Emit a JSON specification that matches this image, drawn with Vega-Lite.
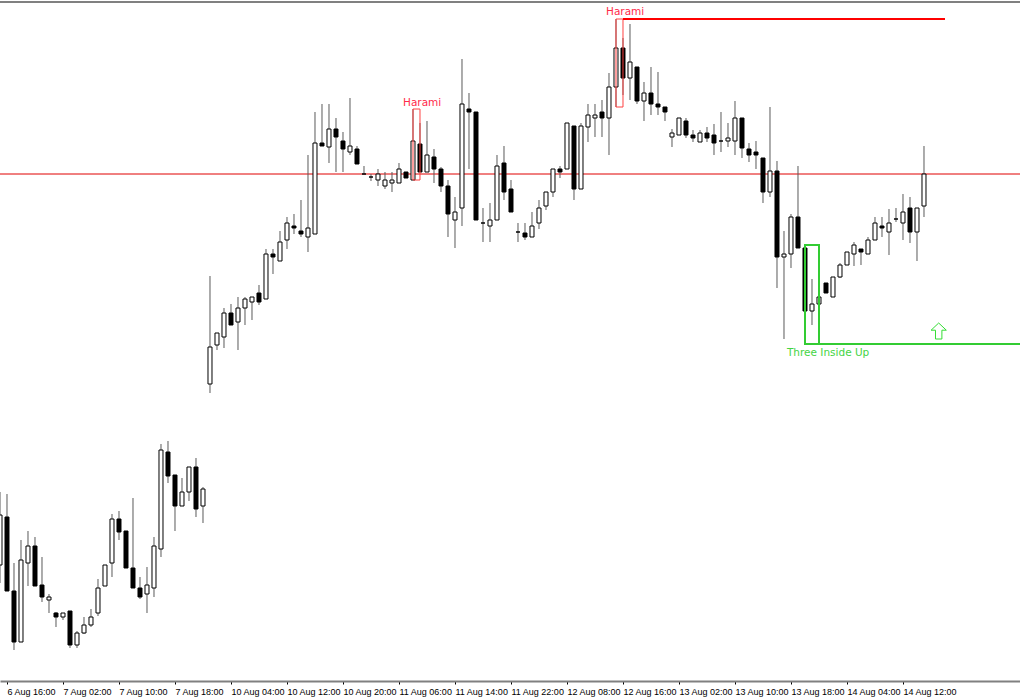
{
  "$schema": "https://vega.github.io/schema/vega-lite/v6.json",
  "width": 1020,
  "height": 681,
  "autosize": {"type": "none"},
  "padding": {"left": 0, "top": 0, "right": 0, "bottom": 19},
  "background": "white",
  "config": {"view": {"stroke": null}, "scale": {"continuousPadding": 0}},
  "datasets": {
    "candles": [
      {"i":-1,"o":435,"h":508,"l":417,"c":485},
      {"i":0,"o":483,"h":506,"l":409,"c":409},
      {"i":1,"o":409,"h":437,"l":350,"c":358},
      {"i":2,"o":358,"h":460,"l":358,"c":440},
      {"i":3,"o":437,"h":469,"l":414,"c":454},
      {"i":4,"o":454,"h":463,"l":414,"c":414},
      {"i":5,"o":415,"h":443,"l":398,"c":403},
      {"i":6,"o":400,"h":406,"l":387,"c":403},
      {"i":7,"o":387,"h":388,"l":373,"c":383},
      {"i":8,"o":383,"h":387,"l":380,"c":387},
      {"i":9,"o":389,"h":389,"l":352,"c":355},
      {"i":10,"o":355,"h":369,"l":352,"c":367},
      {"i":11,"o":367,"h":383,"l":366,"c":375},
      {"i":12,"o":375,"h":391,"l":373,"c":383},
      {"i":13,"o":387,"h":421,"l":384,"c":412},
      {"i":14,"o":414,"h":435,"l":414,"c":435},
      {"i":15,"o":437,"h":486,"l":423,"c":481},
      {"i":16,"o":481,"h":489,"l":460,"c":468},
      {"i":17,"o":469,"h":469,"l":432,"c":432},
      {"i":18,"o":432,"h":502,"l":412,"c":412},
      {"i":19,"o":412,"h":423,"l":401,"c":403},
      {"i":20,"o":406,"h":433,"l":387,"c":415},
      {"i":21,"o":412,"h":463,"l":403,"c":454},
      {"i":22,"o":451,"h":556,"l":443,"c":550},
      {"i":23,"o":548,"h":559,"l":517,"c":524},
      {"i":24,"o":525,"h":525,"l":469,"c":494},
      {"i":25,"o":494,"h":522,"l":494,"c":508},
      {"i":26,"o":508,"h":533,"l":499,"c":533},
      {"i":27,"o":533,"h":542,"l":483,"c":491},
      {"i":28,"o":494,"h":513,"l":477,"c":511},
      {"i":29,"o":616,"h":724,"l":607,"c":653},
      {"i":30,"o":655,"h":667,"l":650,"c":667},
      {"i":31,"o":663,"h":692,"l":652,"c":687},
      {"i":32,"o":687,"h":696,"l":675,"c":675},
      {"i":33,"o":678,"h":703,"l":650,"c":692},
      {"i":34,"o":692,"h":703,"l":675,"c":701},
      {"i":35,"o":698,"h":703,"l":680,"c":703},
      {"i":36,"o":707,"h":715,"l":695,"c":698},
      {"i":37,"o":701,"h":751,"l":701,"c":746},
      {"i":38,"o":746,"h":751,"l":726,"c":743},
      {"i":39,"o":739,"h":769,"l":739,"c":758},
      {"i":40,"o":760,"h":783,"l":751,"c":777},
      {"i":41,"o":774,"h":786,"l":766,"c":772},
      {"i":42,"o":769,"h":800,"l":763,"c":766},
      {"i":43,"o":763,"h":845,"l":748,"c":772},
      {"i":44,"o":766,"h":888,"l":766,"c":857},
      {"i":45,"o":857,"h":896,"l":854,"c":854},
      {"i":46,"o":853,"h":896,"l":837,"c":871},
      {"i":47,"o":871,"h":882,"l":828,"c":863},
      {"i":48,"o":859,"h":868,"l":828,"c":851},
      {"i":49,"o":848,"h":902,"l":845,"c":854},
      {"i":50,"o":851,"h":854,"l":836,"c":836},
      {"i":51,"o":826,"h":834,"l":826,"c":826},
      {"i":52,"o":823,"h":826,"l":819,"c":823},
      {"i":53,"o":820,"h":831,"l":814,"c":826},
      {"i":54,"o":814,"h":828,"l":811,"c":820},
      {"i":55,"o":817,"h":828,"l":808,"c":820},
      {"i":56,"o":817,"h":837,"l":817,"c":831},
      {"i":57,"o":828,"h":828,"l":822,"c":822},
      {"i":58,"o":820,"h":891,"l":820,"c":859},
      {"i":59,"o":856,"h":877,"l":828,"c":828},
      {"i":60,"o":828,"h":879,"l":828,"c":845},
      {"i":61,"o":843,"h":851,"l":817,"c":831},
      {"i":62,"o":831,"h":833,"l":808,"c":814},
      {"i":63,"o":814,"h":820,"l":763,"c":786},
      {"i":64,"o":780,"h":803,"l":752,"c":788},
      {"i":65,"o":792,"h":941,"l":774,"c":896},
      {"i":66,"o":891,"h":907,"l":831,"c":888},
      {"i":67,"o":888,"h":888,"l":780,"c":780},
      {"i":68,"o":777,"h":792,"l":758,"c":777},
      {"i":69,"o":774,"h":797,"l":758,"c":780},
      {"i":70,"o":780,"h":845,"l":780,"c":834},
      {"i":71,"o":837,"h":854,"l":800,"c":808},
      {"i":72,"o":811,"h":820,"l":788,"c":788},
      {"i":73,"o":768,"h":777,"l":758,"c":768},
      {"i":74,"o":767,"h":777,"l":760,"c":763},
      {"i":75,"o":763,"h":788,"l":763,"c":774},
      {"i":76,"o":777,"h":800,"l":771,"c":792},
      {"i":77,"o":794,"h":808,"l":790,"c":808},
      {"i":78,"o":808,"h":831,"l":803,"c":831},
      {"i":79,"o":831,"h":834,"l":822,"c":828},
      {"i":80,"o":831,"h":877,"l":831,"c":877},
      {"i":81,"o":874,"h":874,"l":800,"c":811},
      {"i":82,"o":811,"h":877,"l":811,"c":874},
      {"i":83,"o":873,"h":896,"l":858,"c":885},
      {"i":84,"o":882,"h":896,"l":863,"c":885},
      {"i":85,"o":888,"h":900,"l":863,"c":882},
      {"i":86,"o":882,"h":927,"l":845,"c":913},
      {"i":87,"o":913,"h":981,"l":893,"c":952},
      {"i":88,"o":952,"h":962,"l":905,"c":922},
      {"i":89,"o":922,"h":976,"l":900,"c":938},
      {"i":90,"o":933,"h":933,"l":896,"c":899},
      {"i":91,"o":899,"h":918,"l":879,"c":907},
      {"i":92,"o":907,"h":933,"l":885,"c":896},
      {"i":93,"o":896,"h":928,"l":885,"c":893},
      {"i":94,"o":893,"h":893,"l":879,"c":888},
      {"i":95,"o":863,"h":871,"l":853,"c":867},
      {"i":96,"o":865,"h":882,"l":865,"c":882},
      {"i":97,"o":879,"h":882,"l":862,"c":865},
      {"i":98,"o":865,"h":870,"l":858,"c":862},
      {"i":99,"o":858,"h":870,"l":858,"c":867},
      {"i":100,"o":867,"h":873,"l":858,"c":862},
      {"i":101,"o":865,"h":876,"l":845,"c":857},
      {"i":102,"o":859,"h":888,"l":848,"c":859},
      {"i":103,"o":859,"h":877,"l":853,"c":862},
      {"i":104,"o":859,"h":899,"l":845,"c":882},
      {"i":105,"o":882,"h":882,"l":842,"c":852},
      {"i":106,"o":851,"h":857,"l":838,"c":845},
      {"i":107,"o":848,"h":859,"l":831,"c":845},
      {"i":108,"o":842,"h":842,"l":797,"c":808},
      {"i":109,"o":808,"h":893,"l":803,"c":829},
      {"i":110,"o":829,"h":839,"l":712,"c":743},
      {"i":111,"o":743,"h":769,"l":661,"c":746},
      {"i":112,"o":746,"h":786,"l":732,"c":783},
      {"i":113,"o":783,"h":834,"l":752,"c":752},
      {"i":114,"o":752,"h":755,"l":656,"c":689},
      {"i":115,"o":689,"h":721,"l":675,"c":696},
      {"i":116,"o":696,"h":714,"l":689,"c":703},
      {"i":117,"o":717,"h":717,"l":707,"c":707},
      {"i":118,"o":703,"h":723,"l":703,"c":723},
      {"i":119,"o":723,"h":737,"l":722,"c":735},
      {"i":120,"o":735,"h":748,"l":735,"c":748},
      {"i":121,"o":746,"h":758,"l":734,"c":755},
      {"i":122,"o":751,"h":751,"l":735,"c":748},
      {"i":123,"o":746,"h":763,"l":746,"c":760},
      {"i":124,"o":760,"h":783,"l":760,"c":777},
      {"i":125,"o":774,"h":783,"l":763,"c":772},
      {"i":126,"o":768,"h":791,"l":745,"c":777},
      {"i":127,"o":781,"h":792,"l":778,"c":781},
      {"i":128,"o":777,"h":806,"l":760,"c":788},
      {"i":129,"o":792,"h":803,"l":757,"c":768},
      {"i":130,"o":768,"h":792,"l":739,"c":792},
      {"i":131,"o":794,"h":854,"l":783,"c":826}
    ],
    "levels": [
      {"name":"frame","i":-1,"i2":144.7143,"y":998},
      {"name":"bid","i":-1,"i2":144.7143,"y":826},
      {"name":"Harami","i":88,"i2":134,"y":981},
      {"name":"Three Inside Up","i":116,"i2":144.7143,"y":656}
    ],
    "patterns": [
      {"name":"Harami","i":58,"i2":59,"hi":891,"lo":820},
      {"name":"Harami","i":87,"i2":88,"hi":981,"lo":893},
      {"name":"Three Inside Up","i":114,"i2":116,"hi":755,"lo":656}
    ],
    "labels": [
      {"name":"Harami","i":59.3,"y":897},
      {"name":"Harami","i":88.3,"y":988},
      {"name":"Three Inside Up","i":117.3,"y":647.5}
    ],
    "signals": [
      {"name":"Three Inside Up","i":133.1,"y":669}
    ]
  },
  "encoding": {
    "x": {
      "field": "i",
      "type": "quantitative",
      "scale": {"domain": [-1, 144.7143], "nice": false, "zero": false, "padding": 0},
      "axis": {
        "values": [0,8,16,24,32,40,48,56,64,72,80,88,96,104,112,120,128],
        "labelExpr": "['6 Aug 16:00','7 Aug 02:00','7 Aug 10:00','7 Aug 18:00','10 Aug 04:00','10 Aug 12:00','10 Aug 20:00','11 Aug 06:00','11 Aug 14:00','11 Aug 22:00','12 Aug 08:00','12 Aug 16:00','13 Aug 02:00','13 Aug 10:00','13 Aug 18:00','14 Aug 04:00','14 Aug 12:00'][datum.value/8]",
        "title": null,
        "grid": false,
        "domainColor": "#808080",
        "domainWidth": 2,
        "tickColor": "#000000",
        "tickSize": 3,
        "labelAlign": "left",
        "labelBaseline": "top",
        "labelPadding": 3,
        "labelFont": "Liberation Sans",
        "labelFontSize": 9,
        "labelColor": "#000000",
        "labelFlush": false,
        "labelOverlap": false,
        "labelBound": false
      }
    }
  },
  "layer": [
    {
      "data": {"name": "levels"},
      "transform": [{"filter": "datum.name == 'frame' || datum.name == 'bid'"}],
      "mark": {"type": "rule"},
      "encoding": {
        "x2": {"field": "i2"},
        "y": {"field": "y", "type": "quantitative", "scale": {"domain": [319, 1000], "nice": false, "zero": false, "padding": 0}, "axis": null},
        "stroke": {"condition": {"test": "datum.name == 'bid'", "value": "#e00000"}, "value": "#808080"},
        "strokeWidth": {"condition": {"test": "datum.name == 'bid'", "value": 1}, "value": 2}
      }
    },
    {
      "data": {"name": "candles"},
      "mark": {"type": "rule", "color": "#5a5a5a", "strokeWidth": 1},
      "encoding": {
        "y": {"field": "l", "type": "quantitative", "scale": {"domain": [319, 1000], "nice": false, "zero": false, "padding": 0}, "axis": null},
        "y2": {"field": "h"}
      }
    },
    {
      "data": {"name": "candles"},
      "mark": {"type": "bar", "size": 4, "stroke": "#000000", "strokeWidth": 1},
      "encoding": {
        "y": {"field": "o", "type": "quantitative", "scale": {"domain": [319, 1000], "nice": false, "zero": false, "padding": 0}, "axis": null},
        "y2": {"field": "c"},
        "fill": {"condition": {"test": "datum.c >= datum.o", "value": "#ffffff"}, "value": "#000000"}
      }
    },
    {
      "data": {"name": "patterns"},
      "mark": {"type": "rect", "filled": false},
      "encoding": {
        "x2": {"field": "i2"},
        "y": {"field": "hi", "type": "quantitative", "scale": {"domain": [319, 1000], "nice": false, "zero": false, "padding": 0}, "axis": null},
        "y2": {"field": "lo"},
        "stroke": {"condition": {"test": "datum.name == 'Harami'", "value": "#ff4040"}, "value": "#33cc33"},
        "strokeWidth": {"condition": {"test": "datum.name == 'Harami'", "value": 1}, "value": 2}
      }
    },
    {
      "data": {"name": "levels"},
      "transform": [{"filter": "datum.name != 'frame' && datum.name != 'bid'"}],
      "mark": {"type": "rule", "strokeWidth": 2},
      "encoding": {
        "x2": {"field": "i2"},
        "y": {"field": "y", "type": "quantitative", "scale": {"domain": [319, 1000], "nice": false, "zero": false, "padding": 0}, "axis": null},
        "stroke": {"condition": {"test": "datum.name == 'Harami'", "value": "#ff0000"}, "value": "#33cc33"}
      }
    },
    {
      "data": {"name": "labels"},
      "mark": {"type": "text", "font": "DejaVu Sans", "fontSize": 10.5, "align": "center", "baseline": "middle"},
      "encoding": {
        "y": {"field": "y", "type": "quantitative", "scale": {"domain": [319, 1000], "nice": false, "zero": false, "padding": 0}, "axis": null},
        "text": {"field": "name"},
        "fill": {"condition": {"test": "datum.name == 'Harami'", "value": "#ff2a4a"}, "value": "#44d444"}
      }
    },
    {
      "data": {"name": "signals"},
      "mark": {"type": "point", "shape": "M0,-1 L0.95,-0.1 L0.4,-0.1 L0.4,1 L-0.4,1 L-0.4,-0.1 L-0.95,-0.1 Z", "size": 256, "filled": true, "fill": "#ffffff", "stroke": "#33dd33", "strokeWidth": 1, "opacity": 1},
      "encoding": {
        "y": {"field": "y", "type": "quantitative", "scale": {"domain": [319, 1000], "nice": false, "zero": false, "padding": 0}, "axis": null}
      }
    }
  ]
}
